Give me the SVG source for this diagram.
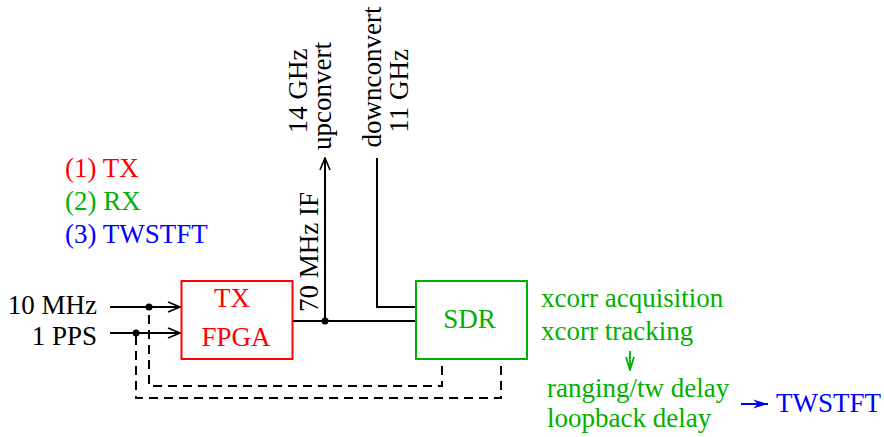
<svg xmlns="http://www.w3.org/2000/svg" width="884" height="437" viewBox="0 0 884 437">
<style>
text{font-family:"Liberation Serif","Times New Roman",serif;font-size:27px}
.k{fill:#000}.r{fill:#ff0000}.g{fill:#00b000}.b{fill:#0000ff}
.ln{stroke:#000;stroke-width:2;fill:none}
.ds{stroke:#000;stroke-width:2;fill:none;stroke-dasharray:9 6}
.box{fill:#fff;stroke-width:2}
</style>
<defs>
<marker id="ao" viewBox="0 0 14 12" refX="13" refY="6" markerWidth="14" markerHeight="12" markerUnits="userSpaceOnUse" orient="auto"><path d="M1,1 L13,6 L1,11" fill="none" stroke="#000" stroke-width="1.6"/></marker>
<marker id="ag" viewBox="0 0 15 10" refX="14" refY="5" markerWidth="15" markerHeight="10" markerUnits="userSpaceOnUse" orient="auto"><path d="M1,1 L14,5 L1,9" fill="none" stroke="#00b000" stroke-width="1.8"/></marker>
<marker id="ab" viewBox="0 0 16 11" refX="15" refY="5.5" markerWidth="16" markerHeight="11" markerUnits="userSpaceOnUse" orient="auto"><path d="M0,1 L15,5.5 L0,10 L5,5.5 Z" fill="#0000ff"/></marker>
</defs>
<g id="legend">
<text class="r" x="65" y="176.5">(1) TX</text>
<text class="g" x="65" y="209.5">(2) RX</text>
<text class="b" x="65" y="242.5">(3) TWSTFT</text>
</g>
<g id="inputs">
<text class="k" x="97" y="314" text-anchor="end">10 MHz</text>
<text class="k" x="97" y="345" text-anchor="end">1 PPS</text>
</g>
<g id="connectors">
<line class="ln" x1="110" y1="307" x2="180" y2="307" marker-end="url(#ao)"/>
<line class="ln" x1="110" y1="333" x2="180" y2="333" marker-end="url(#ao)"/>
<circle cx="149" cy="307" r="3.5" fill="#000"/>
<circle cx="136" cy="333" r="3.5" fill="#000"/>
<polyline class="ds" points="442,366 442,386 149,386 149,310"/>
<polyline class="ds" points="501,366 501,398 136,398 136,336"/>
<line class="ln" x1="293" y1="321" x2="416" y2="321"/>
<circle cx="325" cy="321" r="3.5" fill="#000"/>
<line class="ln" x1="325" y1="321" x2="325" y2="158" marker-end="url(#ao)"/>
<polyline class="ln" points="377,158 377,307 416,307"/>
<line x1="630" y1="351" x2="630" y2="370" stroke="#00b000" stroke-width="1.8" marker-end="url(#ag)"/>
<line x1="741" y1="404" x2="768" y2="404" stroke="#0000ff" stroke-width="2" marker-end="url(#ab)"/>
</g>
<g id="tx">
<rect class="box" x="181.5" y="281" width="111" height="78" stroke="#ff0000"/>
<text class="r" x="232" y="307" text-anchor="middle">TX</text>
<text class="r" x="236" y="346" text-anchor="middle">FPGA</text>
</g>
<g id="sdr">
<rect class="box" x="416" y="281" width="111" height="78" stroke="#00b000"/>
<text class="g" x="469.5" y="327.5" text-anchor="middle">SDR</text>
</g>
<g id="rf-labels">
<text class="k" transform="translate(318,252) rotate(-90)" text-anchor="middle">70 MHz IF</text>
<text class="k" transform="translate(307,91) rotate(-90)" text-anchor="middle">14 GHz</text>
<text class="k" transform="translate(331,96) rotate(-90)" text-anchor="middle">upconvert</text>
<text class="k" transform="translate(381,77) rotate(-90)" text-anchor="middle">downconvert</text>
<text class="k" transform="translate(408,91) rotate(-90)" text-anchor="middle">11 GHz</text>
</g>
<g id="processing">
<text class="g" x="541" y="306.5">xcorr acquisition</text>
<text class="g" x="541" y="340">xcorr tracking</text>
<text class="g" x="547" y="397">ranging/tw delay</text>
<text class="g" x="547" y="427">loopback delay</text>
</g>
<g id="twstft">
<text class="b" x="776" y="411.5">TWSTFT</text>
</g>
</svg>
